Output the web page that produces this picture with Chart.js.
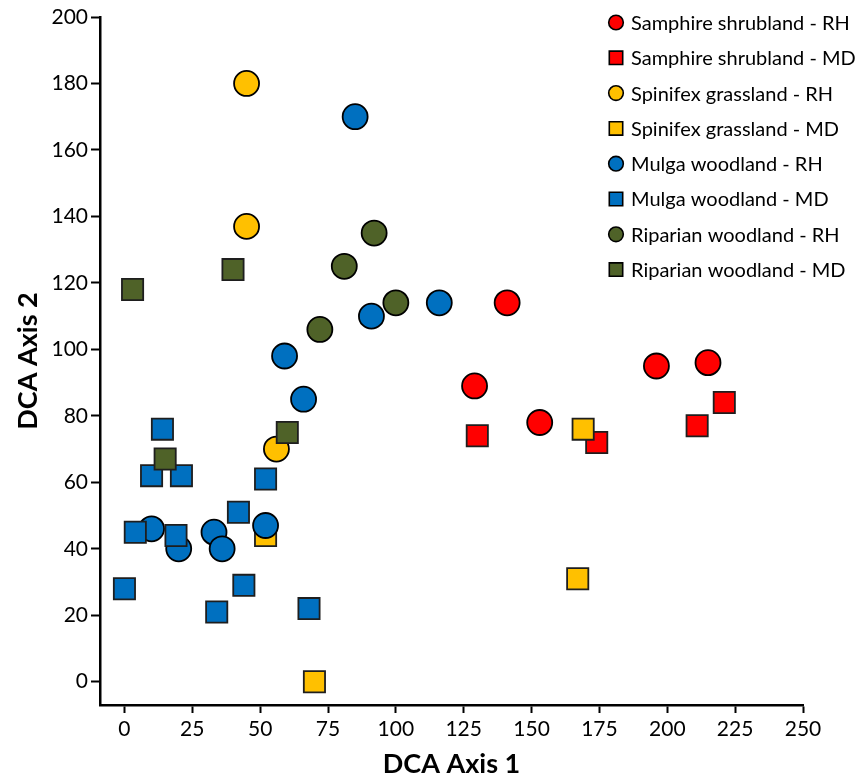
<!DOCTYPE html>
<html>
<head>
<meta charset="utf-8">
<title>DCA ordination</title>
<script src="https://cdn.jsdelivr.net/npm/chart.js@4.4.0/dist/chart.umd.min.js"></script>
<style>
    html, body { margin: 0; padding: 0; background: #ffffff; }
    #wrap { width: 858px; height: 782px; }
</style>
</head>
<body>
<div id="wrap"><canvas id="dcaChart" width="858" height="782"></canvas></div>
<script>
// Marcas de los ejes
const xTicks = [0, 25, 50, 75, 100, 125, 150, 175, 200, 225, 250];
const yTicks = [0, 20, 40, 60, 80, 100, 120, 140, 160, 180, 200];

// Nombres de las series (orden de la leyenda)
const seriesNames = [
    'Samphire shrubland - RH', 'Samphire shrubland - MD',
    'Spinifex grassland - RH', 'Spinifex grassland - MD',
    'Mulga woodland - RH', 'Mulga woodland - MD',
    'Riparian woodland - RH', 'Riparian woodland - MD'
];

// Puntos [DCA 1, DCA 2]
const samphireRH = [[141, 114], [129, 89], [153, 78], [196, 95], [215, 96]];
const samphireMD = [[130, 74], [174, 72], [211, 77], [221, 84]];
const spinifexRH = [[45, 180], [45, 137], [56, 70]];
const spinifexMD = [[169, 76], [167, 31], [70, 0], [52, 44]];
const mulgaRH = [[85, 170], [116, 114], [91, 110], [59, 98], [66, 85],
                 [10, 46], [20, 40], [33, 45], [36, 40], [52, 47]];
const mulgaMD = [[14, 76], [10, 62], [21, 62], [52, 61], [42, 51], [4, 45],
                 [19, 44], [0, 28], [44, 29], [34, 21], [68, 22]];
const riparianRH = [[92, 135], [81, 125], [100, 114], [72, 106]];
const riparianMD = [[3, 118], [40, 124], [15, 67], [60, 75]];

const seriesData = [samphireRH, samphireMD, spinifexRH, spinifexMD,
                    mulgaRH, mulgaMD, riparianRH, riparianMD];
const seriesColors = ['#ff0000', '#ff0000', '#ffc000', '#ffc000',
                      '#0070c0', '#0070c0', '#4f6228', '#4f6228'];

(function () {
    const ctx = document.getElementById('dcaChart').getContext('2d');

    const datasets = seriesNames.map((name, i) => {
        const isSquare = name.endsWith('MD');
        return {
            label: name,
            data: seriesData[i].map(p => ({ x: p[0], y: p[1] })),
            pointStyle: isSquare ? 'rect' : 'circle',
            pointRadius: isSquare ? 15 : 12.5,
            pointHoverRadius: isSquare ? 15 : 12.5,
            backgroundColor: seriesColors[i],
            borderColor: isSquare ? '#1e1e1e' : '#000000',
            borderWidth: 1.8,
            order: seriesNames.length - i // las últimas series quedan encima
        };
    });

    // Leyenda dibujada a la derecha, dentro del área del gráfico
    const sideLegend = {
        id: 'sideLegend',
        afterDraw(chart) {
            const c = chart.ctx;
            c.save();
            chart.data.datasets.forEach((ds, i) => {
                const y = 22.5 + i * 35.3;
                const x = 616;
                c.fillStyle = ds.backgroundColor;
                c.strokeStyle = '#000';
                c.lineWidth = 1.6;
                c.beginPath();
                if (ds.pointStyle === 'rect') {
                    c.rect(x - 6.7, y - 6.7, 13.4, 13.4);
                } else {
                    c.arc(x, y, 7.3, 0, Math.PI * 2);
                }
                c.fill();
                c.stroke();
                c.fillStyle = '#000';
                c.font = '20px Lato';
                c.textBaseline = 'middle';
                c.textAlign = 'left';
                c.fillText(ds.label, 631, y + 1);
            });
            c.restore();
        }
    };

    new Chart(ctx, {
        type: 'scatter',
        data: { datasets },
        plugins: [sideLegend],
        options: {
            responsive: false,
            animation: false,
            layout: { padding: { top: 17, right: 55, left: 0, bottom: 0 } },
            plugins: {
                legend: { display: false },
                tooltip: { enabled: false }
            },
            scales: {
                x: {
                    type: 'linear',
                    min: -9,
                    max: 250,
                    afterBuildTicks: s => { s.ticks = xTicks.map(v => ({ value: v })); },
                    afterFit: s => { s.height = 77; },
                    grid: {
                        drawOnChartArea: false,
                        drawTicks: true,
                        tickLength: 8,
                        tickWidth: 2,
                        tickColor: '#000'
                    },
                    border: { display: true, color: '#000', width: 2.5 },
                    ticks: {
                        color: '#000',
                        font: { family: 'Lato', size: 21 },
                        padding: 4,
                        maxRotation: 0
                    },
                    title: {
                        display: true,
                        text: 'DCA Axis 1',
                        color: '#000',
                        font: { family: 'Lato', size: 27, weight: 'bold' },
                        padding: { top: 0, bottom: 2 }
                    }
                },
                y: {
                    type: 'linear',
                    min: -7,
                    max: 200,
                    afterBuildTicks: s => { s.ticks = yTicks.map(v => ({ value: v })); },
                    afterFit: s => { s.width = 100; },
                    grid: {
                        drawOnChartArea: false,
                        drawTicks: true,
                        tickLength: 9,
                        tickWidth: 2,
                        tickColor: '#000'
                    },
                    border: { display: true, color: '#000', width: 2.5 },
                    ticks: {
                        color: '#000',
                        font: { family: 'Lato', size: 21 },
                        padding: 3
                    },
                    title: {
                        display: true,
                        text: 'DCA Axis 2',
                        color: '#000',
                        font: { family: 'Lato', size: 27, weight: 'bold' },
                        padding: { top: 12, bottom: 0 }
                    }
                }
            }
        }
    });
})();
</script>
</body>
</html>
